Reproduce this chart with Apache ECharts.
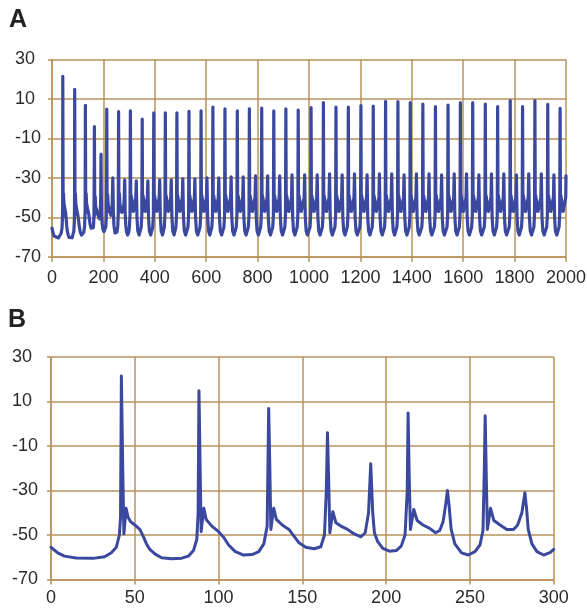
<!DOCTYPE html>
<html>
<head>
<meta charset="utf-8">
<script src="https://cdn.jsdelivr.net/npm/echarts@6/dist/echarts.min.js"></script>
<style>
html,body{margin:0;padding:0;background:#fff;}
#chart{width:587px;height:608px;}
</style>
</head>
<body>
<div id="chart"></div>
<script>
// Panel labels and tick values
var panelLabels = ['A', 'B'];
var yTicks = [-70, -50, -30, -10, 10, 30];
var xRangeA = [0, 2000, 200];
var xRangeB = [0, 300, 50];

// Panel B trace (time, voltage), 0-300 (also the start of panel A)
var traceB = [
[0,-55.5],[4,-58],[8,-59.5],[15,-60.3],[25,-60.5],[32,-59.8],[36,-58],[39,-55.5],[40.8,-50],[41.5,-42],[42,21.5],[42.8,-20],[43.5,-49.5],[44.8,-38],[46,-42],[47.5,-44],[50,-45.5],[53,-47.5],[55,-50.5],[57,-54],[59,-56.5],[62,-58.5],[66,-60.2],[72,-60.7],[78,-60.4],[82,-59.5],[85,-57],[87,-52],[87.8,-40],[88.3,14.8],[89,-20],[89.6,-48.5],[91.2,-38],[92.6,-43],[96,-46],[100,-48.5],[103,-51],[106,-54.5],[110,-57.5],[115,-59],[120,-58.8],[124,-57.5],[127,-54],[129,-46],[129.9,6.8],[130.6,-20],[131.2,-47.5],[132.9,-38],[134.5,-43],[138,-45.5],[142,-47.5],[145,-50.5],[148,-53.5],[152,-55.5],[157,-56.2],[161,-55.3],[163.2,-50],[164.3,-30],[165,-4],[165.7,-25],[166.4,-49],[168.2,-39.5],[170,-44.5],[173,-46],[177,-47.5],[181,-49.5],[185,-50.8],[187.5,-49],[189.5,-40],[190.8,-18],[192,-40],[193,-49],[195,-53],[198,-56],[202,-57.3],[206,-57],[209,-55],[211.3,-50],[212.6,-30],[213.1,4.8],[213.8,-25],[214.5,-47.5],[216.5,-38.5],[218.5,-43.5],[222,-45.5],[226,-47],[229.5,-49],[232,-48],[234,-44],[235.6,-36],[236.6,-30],[237.6,-37],[238.8,-47.5],[241,-54],[245,-58],[249,-59],[253,-57.5],[256,-54.5],[257.8,-48],[258.6,-20],[259.1,3.6],[259.8,-25],[260.4,-47.5],[262.3,-38],[264.3,-43.5],[268,-45.5],[272,-47.5],[276,-47.5],[278.5,-45.5],[281,-40],[282.8,-31],[283.8,-38],[284.8,-47.5],[287,-54],[290,-57.5],[294,-59],[298,-57.8],[300,-56.5]
];

// Panel A trace after 300 (time, voltage)
var traceALate = [
[301,-55],[303.5,-49],[305,3.9],[306.5,-47],[308,-39],[317,-47],[323,-46],[326,-40],[328,-31.5],[330.5,-50],[334,-57],[339,-59],[345,-58],
[347,-55],[349.5,-49],[351,-0.2],[352.5,-47],[354,-39],[363,-47],[369,-46],[371,-40],[373,-31.5],[375.5,-50],[379,-57],[384,-59],[390,-58],
[392,-55],[394.5,-49],[396,2.9],[397.5,-47],[399,-39],[408,-47],[414,-46],[417,-40],[419,-31],[421.5,-50],[425,-57],[430,-59],[436,-58],
[437,-55],[439.5,-49],[441,3],[442.5,-47],[444,-39],[453,-47],[459,-46],[462,-40],[464,-31],[466.5,-50],[470,-57],[475,-59],[481,-58],
[482,-55],[484.5,-49],[486,3],[487.5,-47],[489,-39],[498,-47],[504,-46],[507,-40],[509,-30.5],[511.5,-50],[515,-57],[520,-59],[526,-58],
[529,-55],[531.5,-49],[533,3.7],[534.5,-47],[536,-39],[545,-47],[551,-46],[554,-40],[556,-30.5],[558.5,-50],[562,-57],[567,-59],[573,-58],
[576,-55],[578.5,-49],[580,3.9],[581.5,-47],[583,-39],[592,-47],[598,-46],[601,-40],[603,-30],[605.5,-50],[609,-57],[614,-59],[620,-58],
[622,-55],[624.5,-49],[626,5.9],[627.5,-47],[629,-39],[638,-47],[644,-46],[647,-40],[649,-30],[651.5,-50],[655,-57],[660,-59],[666,-58],
[669,-55],[671.5,-49],[673,5],[674.5,-47],[676,-39],[685,-47],[691,-46],[695,-40],[697,-29.5],[699.5,-50],[703,-57],[708,-59],[714,-58],
[717,-55],[719.5,-49],[721,4],[722.5,-47],[724,-39],[733,-47],[739,-46],[742,-40],[744,-29.5],[746.5,-50],[750,-57],[755,-59],[761,-58],
[764,-55],[766.5,-49],[768,5],[769.5,-47],[771,-39],[780,-47],[786,-46],[790,-40],[792,-29],[794.5,-50],[798,-57],[803,-59],[809,-58],
[812,-55],[814.5,-49],[816,5.4],[817.5,-47],[819,-39],[828,-47],[834,-46],[837,-40],[839,-29],[841.5,-50],[845,-57],[850,-59],[856,-58],
[859,-55],[861.5,-49],[863,3.9],[864.5,-47],[866,-39],[875,-47],[881,-46],[884,-40],[886,-29],[888.5,-50],[892,-57],[897,-59],[903,-58],
[906,-55],[908.5,-49],[910,5],[911.5,-47],[913,-39],[922,-47],[928,-46],[932,-40],[934,-28.5],[936.5,-50],[940,-57],[945,-59],[951,-58],
[954,-55],[956.5,-49],[958,4.4],[959.5,-47],[961,-39],[970,-47],[976,-46],[981,-40],[983,-28.5],[985.5,-50],[989,-57],[994,-59],[1000,-58],
[1004,-55],[1006.5,-49],[1008,5.6],[1009.5,-47],[1011,-39],[1020,-47],[1026,-46],[1030,-40],[1032,-28.5],[1034.5,-50],[1038,-57],[1043,-59],[1049,-58],
[1052,-55],[1054.5,-49],[1056,8.1],[1057.5,-47],[1059,-39],[1068,-47],[1074,-46],[1078,-40],[1080,-28],[1082.5,-50],[1086,-57],[1091,-59],[1097,-58],
[1101,-55],[1103.5,-49],[1105,5.8],[1106.5,-47],[1108,-39],[1117,-47],[1123,-46],[1127,-40],[1129,-28.5],[1131.5,-50],[1135,-57],[1140,-59],[1146,-58],
[1149,-55],[1151.5,-49],[1153,5.8],[1154.5,-47],[1156,-39],[1165,-47],[1171,-46],[1175,-40],[1177,-28],[1179.5,-50],[1183,-57],[1188,-59],[1194,-58],
[1198,-55],[1200.5,-49],[1202,6.6],[1203.5,-47],[1205,-39],[1214,-47],[1220,-46],[1224,-40],[1226,-28.5],[1228.5,-50],[1232,-57],[1237,-59],[1243,-58],
[1246,-55],[1248.5,-49],[1250,6.4],[1251.5,-47],[1253,-39],[1262,-47],[1268,-46],[1272,-40],[1274,-28],[1276.5,-50],[1280,-57],[1285,-59],[1291,-58],
[1294,-55],[1296.5,-49],[1298,8.8],[1299.5,-47],[1301,-39],[1310,-47],[1316,-46],[1320,-40],[1322,-28],[1324.5,-50],[1328,-57],[1333,-59],[1339,-58],
[1342,-55],[1344.5,-49],[1346,8.6],[1347.5,-47],[1349,-39],[1358,-47],[1364,-46],[1368,-40],[1370,-28.5],[1372.5,-50],[1376,-57],[1381,-59],[1387,-58],
[1390,-55],[1392.5,-49],[1394,8.1],[1395.5,-47],[1397,-39],[1406,-47],[1412,-46],[1416,-40],[1418,-28],[1420.5,-50],[1424,-57],[1429,-59],[1435,-58],
[1439,-55],[1441.5,-49],[1443,7.4],[1444.5,-47],[1446,-39],[1455,-47],[1461,-46],[1465,-40],[1467,-28],[1469.5,-50],[1473,-57],[1478,-59],[1484,-58],
[1488,-55],[1490.5,-49],[1492,6.1],[1493.5,-47],[1495,-39],[1504,-47],[1510,-46],[1514,-40],[1516,-28.5],[1518.5,-50],[1522,-57],[1527,-59],[1533,-58],
[1537,-55],[1539.5,-49],[1541,6.9],[1542.5,-47],[1544,-39],[1553,-47],[1559,-46],[1563,-40],[1565,-28],[1567.5,-50],[1571,-57],[1576,-59],[1582,-58],
[1585,-55],[1587.5,-49],[1589,8.1],[1590.5,-47],[1592,-39],[1601,-47],[1607,-46],[1611,-40],[1613,-28],[1615.5,-50],[1619,-57],[1624,-59],[1630,-58],
[1633,-55],[1635.5,-49],[1637,8.1],[1638.5,-47],[1640,-39],[1649,-47],[1655,-46],[1659,-40],[1661,-28.5],[1663.5,-50],[1667,-57],[1672,-59],[1678,-58],
[1682,-55],[1684.5,-49],[1686,7.4],[1687.5,-47],[1689,-39],[1698,-47],[1704,-46],[1708,-40],[1710,-28],[1712.5,-50],[1716,-57],[1721,-59],[1727,-58],
[1730,-55],[1732.5,-49],[1734,6.1],[1735.5,-47],[1737,-39],[1746,-47],[1752,-46],[1756,-40],[1758,-28],[1760.5,-50],[1764,-57],[1769,-59],[1775,-58],
[1779,-55],[1781.5,-49],[1783,9.1],[1784.5,-47],[1786,-39],[1795,-47],[1801,-46],[1805,-40],[1807,-28.5],[1809.5,-50],[1813,-57],[1818,-59],[1824,-58],
[1827,-55],[1829.5,-49],[1831,6.1],[1832.5,-47],[1834,-39],[1843,-47],[1849,-46],[1853,-40],[1855,-28],[1857.5,-50],[1861,-57],[1866,-59],[1872,-58],
[1875,-55],[1877.5,-49],[1879,9.1],[1880.5,-47],[1882,-39],[1891,-47],[1897,-46],[1902,-40],[1904,-28],[1906.5,-50],[1910,-57],[1915,-59],[1921,-58],
[1925,-55],[1927.5,-49],[1929,7.3],[1930.5,-47],[1932,-39],[1941,-47],[1947,-46],[1951,-40],[1953,-28.5],[1955.5,-50],[1959,-57],[1964,-59],[1970,-58],
[1973,-55],[1975.5,-49],[1977,5.2],[1978.5,-47],[1980,-39],[1989,-47],[1995,-46],[1999,-40],[2000,-29]
];

var traceA = traceB.concat(traceALate);

var gridColor = '#B8925A';
var textColor = '#2b2b2b';
var lineColor = '#3A48A0';
var fontFam = '"Liberation Sans", Arial, sans-serif';

function plainLabel(v) { return String(v); }

function xAxisCfg(gi, range, margin) {
  return {
    type: 'value', gridIndex: gi, min: range[0], max: range[1], interval: range[2],
    axisLine: { show: true, onZero: false, lineStyle: { color: gridColor, width: 1.5 } },
    axisTick: { show: true, length: 5, lineStyle: { color: gridColor, width: 1.5 } },
    splitLine: { show: true, lineStyle: { color: gridColor, width: 1.5 } },
    axisLabel: { fontSize: 18, color: textColor, fontFamily: fontFam, margin: margin, formatter: plainLabel }
  };
}
function yAxisCfg(gi, margin) {
  return {
    type: 'value', gridIndex: gi, min: yTicks[0], max: yTicks[yTicks.length - 1],
    interval: yTicks[1] - yTicks[0],
    axisLine: { show: true, onZero: false, lineStyle: { color: gridColor, width: 1.5 } },
    axisTick: { show: true, length: 4, lineStyle: { color: gridColor, width: 1.5 } },
    splitLine: { show: true, lineStyle: { color: gridColor, width: 1.5 } },
    axisLabel: { fontSize: 18, color: textColor, fontFamily: fontFam, align: 'left', margin: margin, formatter: plainLabel }
  };
}

var chart = echarts.init(document.getElementById('chart'), null, { renderer: 'canvas' });
chart.setOption({
  animation: false,
  backgroundColor: '#ffffff',
  title: [
    { text: panelLabels[0], left: 9, top: 8, padding: 0, textStyle: { fontSize: 25, fontWeight: 'bold', color: '#222', fontFamily: fontFam } },
    { text: panelLabels[1], left: 8, top: 308, padding: 0, textStyle: { fontSize: 25, fontWeight: 'bold', color: '#222', fontFamily: fontFam } }
  ],
  grid: [
    { left: 52, top: 59.5, width: 514, height: 197.2, outerBoundsMode: 'none' },
    { left: 51, top: 357, width: 502.7, height: 222.5, outerBoundsMode: 'none' }
  ],
  xAxis: [xAxisCfg(0, xRangeA, 12), xAxisCfg(1, xRangeB, 10)],
  yAxis: [yAxisCfg(0, 37), yAxisCfg(1, 39)],
  series: [
    { type: 'line', xAxisIndex: 0, yAxisIndex: 0, data: traceA, showSymbol: false, symbol: 'none',
      sampling: null, lineStyle: { color: lineColor, width: 3.2, join: 'round', cap: 'round' } },
    { type: 'line', xAxisIndex: 1, yAxisIndex: 1, data: traceB, showSymbol: false, symbol: 'none',
      lineStyle: { color: lineColor, width: 3, join: 'round', cap: 'round' } }
  ]
});
</script>
</body>
</html>
